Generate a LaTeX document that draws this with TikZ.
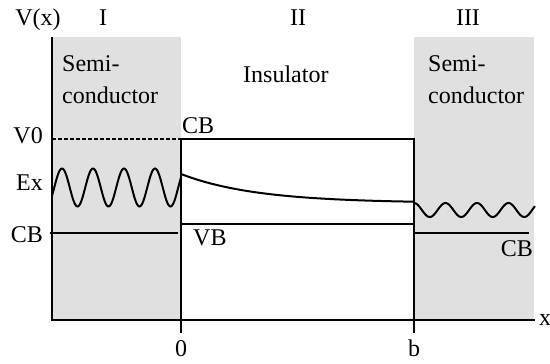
\documentclass[tikz,border=0pt]{standalone}
\usepackage{fontspec}
\setmainfont{Liberation Serif}
\usetikzlibrary{positioning}
\definecolor{semigray}{RGB}{224,224,224}
\tikzset{
  axisline/.style={line width=2.4pt},
  band/.style={line width=2.2pt},
  wave/.style={line width=2pt, smooth},
  lbl/.style={font=\fontsize{24}{32}\selectfont, inner sep=0pt}
}

\begin{document}
\begin{tikzpicture}[x=1pt,y=-1pt]
        \useasboundingbox (0,0) rectangle (550,364);
        % semiconductor regions
        \fill[semigray] (52,37) rectangle (181,320);
        \fill[semigray] (414,37) rectangle (534,320);
        % axes
        \coordinate (top) at (52,37);
        \coordinate (o) at (52,320);
        \coordinate (xend) at (535,320);
        \draw[axisline] (top) -- (o) -- (xend);
        % barrier
        \coordinate (v0) at (52,139);
        \coordinate (bl) at (181,139);
        \coordinate (br) at (414,139);
        \coordinate (zero) at (181,333);
        \coordinate (bb) at (414,333);
        \coordinate (vbl) at (181,224);
        \coordinate (vbr) at (414,224);
        \coordinate (cbl) at (50,233);
        \coordinate (cblr) at (178,233);
        \coordinate (cbrl) at (415,233);
        \coordinate (cbr) at (529,233);
        \draw[dash pattern=on 4pt off 2pt, line width=1.5pt] (v0) -- (bl);
        \draw[band] (zero) -- (bl) -- (br) -- (bb);
        \draw[band] (vbl) -- (vbr);
        \draw[band] (cbl) -- (cblr);
        \draw[band] (cbrl) -- (cbr);
        % wave function
        \draw[wave] plot[domain=52:181, samples=160] (\x, {187.5-19*cos(11.613*(\x-62))});
        \draw[wave] plot[domain=181:414, samples=80] (\x, {203-29*exp(-(\x-181)/75)});
        \draw[wave] plot[domain=414:535, samples=120] (\x, {210-7*cos(11.429*(\x-414))});
        % labels
        \node[lbl, anchor=base] (vx) at (38,25) {V(x)};
        \node[lbl, anchor=base] (r1) at (103,25) {I};
        \node[lbl, anchor=base] (r2) at (298,25) {II};
        \node[lbl, anchor=base] (r3) at (468,25) {III};
        \node[lbl, anchor=base west, align=left] (semi1) at (62,103) {Semi-\\conductor};
        \node[lbl, anchor=base west] (ins) at (243,82) {Insulator};
        \node[lbl, anchor=base west, align=left] (semi3) at (428,103) {Semi-\\conductor};
        \node[lbl, anchor=base east] (v0l) at (43,143) {V0};
        \node[lbl, anchor=base east] (exl) at (43,190) {Ex};
        \node[lbl, anchor=base east] (cbll) at (43,242) {CB};
        \node[lbl, anchor=base west] (cbt) at (182,133) {CB};
        \node[lbl, anchor=base west] (vb) at (193,245) {VB};
        \node[lbl, anchor=base east] (cbrr) at (533,256) {CB};
        \node[lbl, anchor=base] (zl) at (181,356) {0};
        \node[lbl, anchor=base] (bl2) at (414,356) {b};
        \node[lbl, anchor=base west] (xl) at (539,325) {x};
\end{tikzpicture}
\end{document}
